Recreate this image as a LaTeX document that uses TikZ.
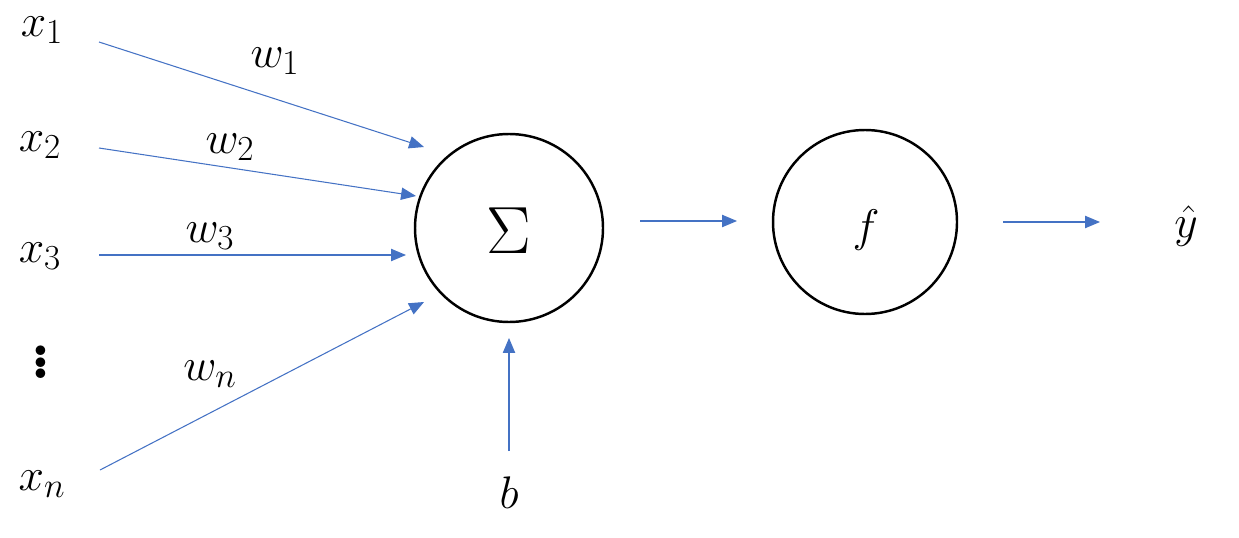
\RequirePackage{fix-cm}
\documentclass[tikz,border=0pt]{standalone}
\usepackage{amsmath,bm}
\usetikzlibrary{arrows.meta}
\DeclareMathSizes{26}{26}{20}{15}
\DeclareMathSizes{38}{38}{28}{20}
\definecolor{arrowblue}{HTML}{4472C4}
\begin{document}
\begin{tikzpicture}[x=0.02cm,y=-0.02cm,
  lbl/.style={inner sep=0pt,font=\fontsize{26}{30}\selectfont},
  big/.style={inner sep=0pt,font=\fontsize{38}{44}\selectfont},
  neuron/.style={circle,draw=black,line width=1.4pt,inner sep=0pt},
  conn/.style={draw=arrowblue,line width=0.6pt,-{Triangle[length=8.5pt,width=7pt]}}]
\useasboundingbox (0,0) rectangle (1239,537);
% circles
\node[neuron,minimum size=188*0.02cm] (sum) at (509,228) {};
\node[big] (sig) at (509,231) {$\Sigma$};
\node[neuron,minimum size=184*0.02cm] (f) at (865,222) {};
\node[lbl] (fl) at (866,230) {$f$};
% labels
\node[lbl] (x1) at (42,30) {$x_1$};
\node[lbl] (x2) at (40,145) {$x_2$};
\node[lbl] (x3) at (40,256) {$x_3$};
\node[big] (dots) at (41,357) {$\bm{\vdots}$};
\node[lbl] (xn) at (42,484) {$x_n$};
\node[lbl] (w1) at (275,61) {$w_1$};
\node[lbl] (w2) at (230,147) {$w_2$};
\node[lbl] (w3) at (210,236) {$w_3$};
\node[lbl] (wn) at (210,374) {$w_n$};
\node[lbl] (b) at (509,493) {$b$};
\node[lbl] (yhat) at (1186,226) {$\hat{y}$};
% connector endpoints
\coordinate (s1) at (99,42);   \coordinate (e1) at (424,147);
\coordinate (s2) at (99,148);  \coordinate (e2) at (416,196);
\coordinate (s3) at (99,255);  \coordinate (e3) at (406,255);
\coordinate (sn) at (100,470); \coordinate (en) at (424,302);
\coordinate (sb) at (509,451); \coordinate (eb) at (509,338);
\coordinate (ss) at (640,221); \coordinate (es) at (737,221);
\coordinate (sf) at (1003,222);\coordinate (ef) at (1100,222);
\draw[conn] (s1) -- (e1);
\draw[conn] (s2) -- (e2);
\draw[conn] (s3) -- (e3);
\draw[conn] (sn) -- (en);
\draw[conn] (sb) -- (eb);
\draw[conn] (ss) -- (es);
\draw[conn] (sf) -- (ef);
\end{tikzpicture}
\end{document}
